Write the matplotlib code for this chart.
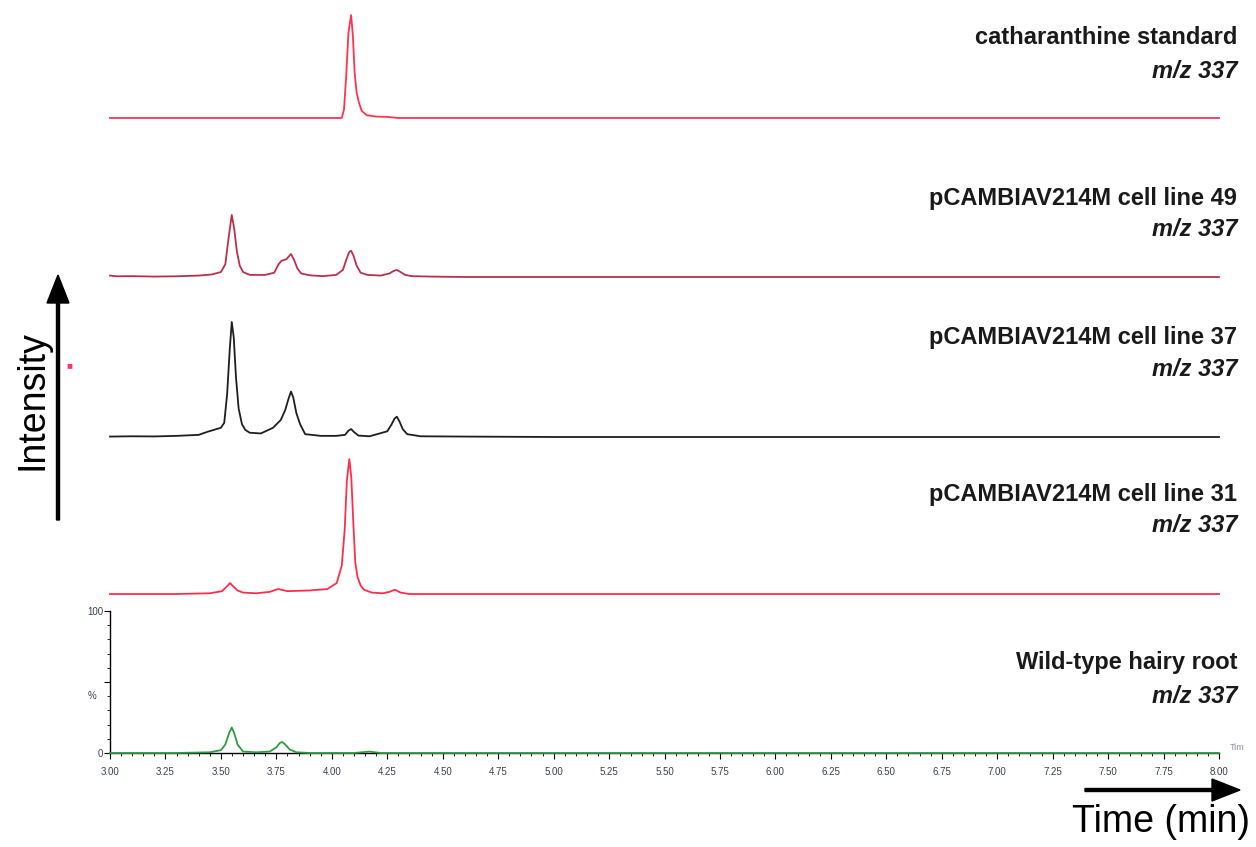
import numpy as np
import matplotlib
matplotlib.use('Agg')
from matplotlib import pyplot as plt
from matplotlib.patches import FancyArrow
from matplotlib.ticker import MultipleLocator, FixedLocator, FormatStrFormatter

plt.rcParams['font.family'] = ['Liberation Sans', 'DejaVu Sans']

# traced chromatograms, intensity in % of the bottom panel scale
std_t = [3.00, 3.50, 4.00, 4.045, 4.055, 4.065, 4.075, 4.087, 4.095, 4.103,
         4.112, 4.122, 4.135, 4.157, 4.20, 4.25, 4.30, 5.00, 6.00, 7.00,
         8.00]
std_i = [0.0, 0.0, 0.0, 0.0, 6.0, 30.0, 60.0, 72.5, 58.0, 32.0,
         18.0, 11.0, 5.0, 2.0, 1.0, 0.8, 0.0, 0.0, 0.0, 0.0,
         0.0]

l49_t = [3.00, 3.03, 3.10, 3.20, 3.30, 3.40, 3.46, 3.50, 3.52, 3.535, 3.549,
         3.56, 3.572, 3.585, 3.60, 3.63, 3.70, 3.74, 3.760, 3.774, 3.795,
         3.816, 3.83, 3.845, 3.862, 3.90, 3.96, 4.02, 4.05, 4.065, 4.078,
         4.087, 4.098, 4.112, 4.130, 4.16, 4.22, 4.26, 4.278, 4.293, 4.31,
         4.33, 4.36, 4.45, 4.60, 5.00, 6.00, 7.00, 8.00]
l49_i = [1.0, 0.5, 0.6, 0.3, 0.5, 1.0, 1.8, 3.5, 9.0, 28.0, 43.7,
         34.0, 18.0, 8.0, 3.5, 1.5, 1.5, 3.0, 9.0, 11.5, 12.5,
         16.2, 12.0, 6.0, 2.5, 1.2, 0.6, 1.5, 5.0, 12.0, 17.5,
         18.5, 15.0, 8.0, 3.0, 1.5, 1.0, 2.5, 4.2, 5.0, 3.5,
         1.5, 0.6, 0.3, 0.0, 0.0, 0.0, 0.0, 0.0]

l37_t = [3.00, 3.10, 3.20, 3.30, 3.40, 3.44, 3.50, 3.515, 3.528, 3.540,
         3.549, 3.558, 3.568, 3.58, 3.595, 3.61, 3.63, 3.68, 3.735, 3.77,
         3.79, 3.805, 3.816, 3.826, 3.840, 3.857, 3.88, 3.95, 4.02, 4.06,
         4.075, 4.087, 4.10, 4.12, 4.17, 4.25, 4.27, 4.283, 4.293, 4.305,
         4.32, 4.34, 4.40, 4.60, 5.00, 6.00, 7.00, 8.00]
l37_i = [0.3, 0.5, 0.4, 0.8, 1.5, 3.7, 6.5, 10.0, 30.0, 62.0,
         81.0, 70.0, 42.0, 20.0, 9.0, 5.0, 3.0, 2.5, 6.5, 12.0,
         19.0, 27.0, 32.0, 28.0, 17.0, 9.0, 2.0, 0.8, 0.8, 1.5,
         4.5, 5.6, 3.5, 1.0, 0.5, 4.0, 9.0, 13.0, 14.3, 11.0,
         5.5, 2.0, 0.5, 0.3, 0.0, 0.0, 0.0, 0.0]

l31_t = [3.00, 3.30, 3.45, 3.505, 3.525, 3.541, 3.555, 3.575, 3.60, 3.66,
         3.72, 3.757, 3.80, 3.90, 3.98, 4.022, 4.045, 4.058, 4.068, 4.079,
         4.088, 4.097, 4.106, 4.116, 4.130, 4.145, 4.18, 4.23, 4.26, 4.285,
         4.31, 4.35, 4.50, 5.00, 6.00, 7.00, 8.00]
l31_i = [0.0, 0.0, 0.5, 2.0, 5.0, 7.7, 5.5, 2.5, 1.0, 0.5,
         1.5, 3.5, 2.0, 2.5, 3.5, 7.7, 20.0, 45.0, 80.0, 95.0,
         82.0, 50.0, 22.0, 12.0, 6.0, 3.0, 1.0, 0.5, 1.5, 3.0,
         1.0, 0.0, 0.0, 0.0, 0.0, 0.0, 0.0]

wt_t = [3.00, 3.30, 3.45, 3.50, 3.52, 3.537, 3.549, 3.56, 3.575, 3.60,
        3.66, 3.72, 3.75, 3.765, 3.777, 3.79, 3.81, 3.84, 3.90, 4.10,
        4.17, 4.22, 5.00, 6.00, 7.00, 8.00]
wt_i = [0.0, 0.0, 0.5, 2.0, 6.0, 14.0, 18.0, 14.0, 6.0, 1.0,
        0.5, 1.0, 4.0, 7.0, 7.7, 6.0, 2.5, 0.5, 0.0, 0.0,
        1.0, 0.0, 0.0, 0.0, 0.0, 0.0]

names = ['catharanthine standard',
         'pCAMBIAV214M cell line 49',
         'pCAMBIAV214M cell line 37',
         'pCAMBIAV214M cell line 31',
         'Wild-type hairy root']
traces = [(std_t, std_i), (l49_t, l49_i), (l37_t, l37_i),
          (l31_t, l31_i), (wt_t, wt_i)]
colors = ['#ff3350', '#b8304e', '#1e1e1e', '#ff2d4b', '#2e9a44']

W, H = 1256, 847
fig = plt.figure(figsize=(W / 100, H / 100), dpi=100)

x0, x1 = 110, 1219
base_px = [118, 277, 437, 594, 753]
label_px = [(38, 71), (198, 230), (337, 369), (494, 525), (662, 696)]

for k, ((t, i), c) in enumerate(zip(traces, colors)):
    ax = fig.add_axes([x0 / W, (H - base_px[k]) / H,
                       (x1 - x0) / W, 142 / H])
    ax.patch.set_alpha(0)
    ax.plot(t, i, color=c, lw=1.3, zorder=3, clip_on=False)
    ax.set_xlim(3.0, 8.0)
    ax.set_ylim(0, 100)
    if k < 4:
        ax.axis('off')
    else:
        for s in ['top', 'right']:
            ax.spines[s].set_visible(False)
        ax.spines['left'].set_linewidth(1.0)
        ax.spines['bottom'].set_linewidth(1.0)
        ax.xaxis.set_major_locator(MultipleLocator(0.25))
        ax.xaxis.set_minor_locator(MultipleLocator(0.05))
        ax.xaxis.set_major_formatter(FormatStrFormatter('%.2f'))
        ax.yaxis.set_major_locator(FixedLocator([0, 50, 100]))
        ax.yaxis.set_minor_locator(MultipleLocator(10))
        ax.set_yticklabels(['0', '', '100'])
        ax.tick_params(axis='both', which='major', length=4, width=0.8,
                       labelsize=7, labelcolor='#3a4050', pad=6)
        ax.tick_params(axis='both', which='minor', length=2, width=0.6)
        ax.tick_params(axis='y', pad=1)
        ax.text(-0.012, 40, '%', transform=ax.get_yaxis_transform(),
                ha='right', va='center', fontsize=7, color='#3a4050')
        ax.text(1.01, 0.01, 'Tim', transform=ax.transAxes, ha='left',
                va='bottom', fontsize=6.5, color='#8a90a0')

    ya, yb = label_px[k]
    fig.text(1237 / W, (H - ya) / H, names[k], ha='right', va='center',
             fontsize=17, fontweight='bold', color='#1a1a1a')
    fig.text(1237 / W, (H - yb) / H, 'm/z 337', ha='right', va='center',
             fontsize=17, fontweight='bold', style='italic', color='#1a1a1a')

# axis arrows and titles
fig.patches.append(FancyArrow(
    58 / W, (H - 520) / H, 0, 245 / H, width=3 / W, head_width=22 / W,
    head_length=28 / H, length_includes_head=True, color='black',
    transform=fig.transFigure))
fig.text(33 / W, (H - 400) / H, 'Intensity', rotation=90, ha='center',
         va='center', fontsize=27)
fig.patches.append(FancyArrow(
    1085 / W, (H - 790) / H, 155 / W, 0, width=3 / H, head_width=22 / H,
    head_length=28 / W, length_includes_head=True, color='black',
    transform=fig.transFigure))
fig.text(1250 / W, (H - 822) / H, 'Time (min)', ha='right', va='center',
         fontsize=27)
fig.text(69 / W, (H - 365) / H, '\u25a0', ha='center', va='center',
         fontsize=7, color='#ff3366')

fig.savefig('out.png', dpi=100)
